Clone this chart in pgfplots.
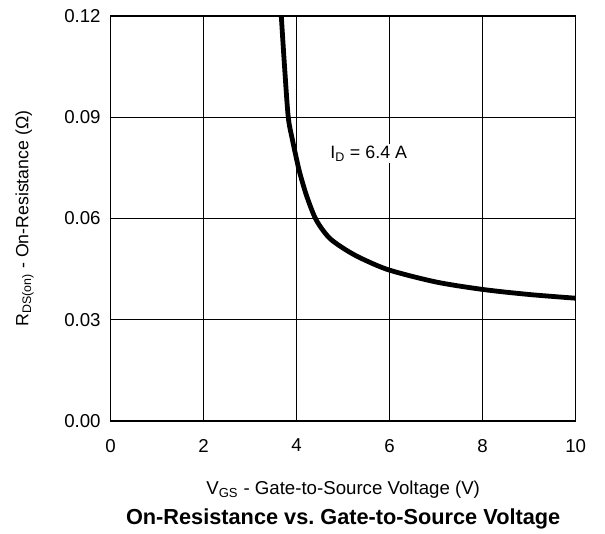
\documentclass[border=0pt]{standalone}
\usepackage{pgfplots}
\pgfplotsset{compat=1.18}
\usepackage{fontspec}
\setmainfont{Liberation Sans}
\begin{document}
\begin{tikzpicture}
\begin{axis}[
    name=main,
    scale only axis,
    width=349pt,
    height=304pt,
    xmin=0, xmax=10,
    ymin=0, ymax=0.12,
    xtick={0,2,4,6,8,10},
    ytick={0,0.03,0.06,0.09,0.12},
    yticklabel style={/pgf/number format/fixed, /pgf/number format/fixed zerofill, /pgf/number format/precision=2, xshift=-4pt},
    scaled y ticks=false,
    xticklabel style={yshift=-10pt},
    /pgf/number format/assume math mode=true,
    tick label style={font=\fontsize{14}{16}\selectfont},
    major tick length=0pt,
    grid=major,
    grid style={black, line width=0.7pt},
    axis line style={line width=1.1pt},
    xlabel={V\textsubscript{GS} - Gate-to-Source Voltage (V)},
    xlabel style={at={(axis description cs:0.5,-0.170)}, anchor=center, font=\fontsize{14}{16}\selectfont},
    ylabel={R\textsubscript{DS(on)} - On-Resistance (Ω)},
    ylabel style={at={(axis description cs:-0.185,0.5)}, anchor=center, font=\fontsize{13.3}{15}\selectfont},
    title={\textbf{On-Resistance vs.\ Gate-to-Source Voltage}},
    title style={at={(axis description cs:0.5,-0.262)}, anchor=center, yshift=0pt, font=\fontsize{16.3}{18}\selectfont},
]
\addplot[black, line width=3.6pt, smooth] coordinates {
    (3.67,0.120)(3.74,0.105)(3.82,0.090)(3.91,0.0833)(4.00,0.0775)
    (4.07,0.0734)(4.22,0.0665)(4.42,0.0596)(4.70,0.0543)(5.06,0.0507)
    (5.42,0.0480)(6.0,0.0447)(7.0,0.0412)(8.0,0.0390)(9.0,0.0375)(10.0,0.0364)
};
\node[fill=white, inner sep=1.5pt, font=\fontsize{13.4}{15}\selectfont] at (axis cs:5.55,0.0793) {I\textsubscript{D} = 6.4 A};
\end{axis}
\path (main.south west) ++(-83pt,-81pt) coordinate (bl);
\path (main.north east) ++(22pt,12pt) coordinate (tr);
\path[use as bounding box] (bl) rectangle (tr);
\end{tikzpicture}
\end{document}
